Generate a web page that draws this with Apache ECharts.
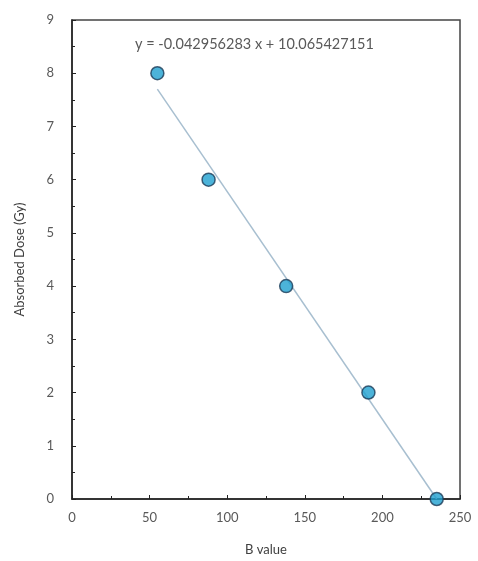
<!DOCTYPE html>
<html>
<head>
<meta charset="utf-8">
<script src="https://cdn.jsdelivr.net/npm/echarts@6/dist/echarts.min.js"></script>
<style>
    html, body { margin: 0; padding: 0; background: #fff; }
    #chart { width: 478px; height: 561px; }
</style>
</head>
<body>
<div id="chart"></div>
<script>
    // measured points (B value, dose)
    let bValues = [55, 88, 138, 191, 235];
    let doses = [8, 6, 4, 2, 0];
    // linear trendline end points
    let trendX = [55, 235];
    let trendY = [7.7, 0.0];
    let equation = 'y = -0.042956283 x + 10.065427151';

    let points = bValues.map((x, i) => [x, doses[i]]);
    let trend = trendX.map((x, i) => [x, trendY[i]]);

    let chart = echarts.init(document.getElementById('chart'));
    let labelFont = { color: '#595959', fontSize: 13, fontFamily: 'Lato' };
    let option = {
        animation: false,
        grid: {
            left: 72,
            right: 18,
            top: 20,
            bottom: 61,
            show: true,
            borderColor: '#444',
            borderWidth: 1.5
        },
        xAxis: {
            type: 'value',
            min: 0,
            max: 250,
            interval: 50,
            name: 'B value',
            nameLocation: 'middle',
            nameGap: 44,
            nameTextStyle: { color: '#404040', fontSize: 13, fontFamily: 'Lato' },
            axisLine: { onZero: false, lineStyle: { color: '#222', width: 1.5 } },
            axisTick: { show: true, inside: true, length: 4, lineStyle: { color: '#222' } },
            minorTick: { show: true, splitNumber: 2, length: 3, lineStyle: { color: '#222' } },
            splitLine: { show: false },
            axisLabel: Object.assign({ margin: 12 }, labelFont)
        },
        yAxis: {
            type: 'value',
            min: 0,
            max: 9,
            interval: 1,
            name: 'Absorbed Dose (Gy)',
            nameLocation: 'middle',
            nameGap: 46,
            nameTextStyle: { color: '#404040', fontSize: 13, fontFamily: 'Lato' },
            axisLine: { show: true, onZero: false, lineStyle: { color: '#222', width: 1.5 } },
            axisTick: { show: true, inside: true, length: 4, lineStyle: { color: '#222' } },
            minorTick: { show: true, splitNumber: 2, length: 3, lineStyle: { color: '#222' } },
            splitLine: { show: false },
            axisLabel: Object.assign({ margin: 18 }, labelFont)
        },
        graphic: [{
            type: 'text',
            left: 135,
            top: 37,
            style: {
                text: equation,
                fill: '#595959',
                font: '14.5px Lato'
            }
        }],
        series: [
            {
                name: 'trend',
                type: 'line',
                data: trend,
                symbol: 'none',
                lineStyle: { color: '#a8bfd0', width: 1.5 },
                z: 1
            },
            {
                name: 'dose',
                type: 'scatter',
                data: points,
                symbolSize: 13,
                itemStyle: {
                    color: '#1fa0cf',
                    borderColor: '#1b3b57',
                    borderWidth: 1.5
                },
                z: 3
            }
        ]
    };
    chart.setOption(option);
    window.addEventListener('resize', function () {
        chart.resize();
    });
</script>
</body>
</html>
